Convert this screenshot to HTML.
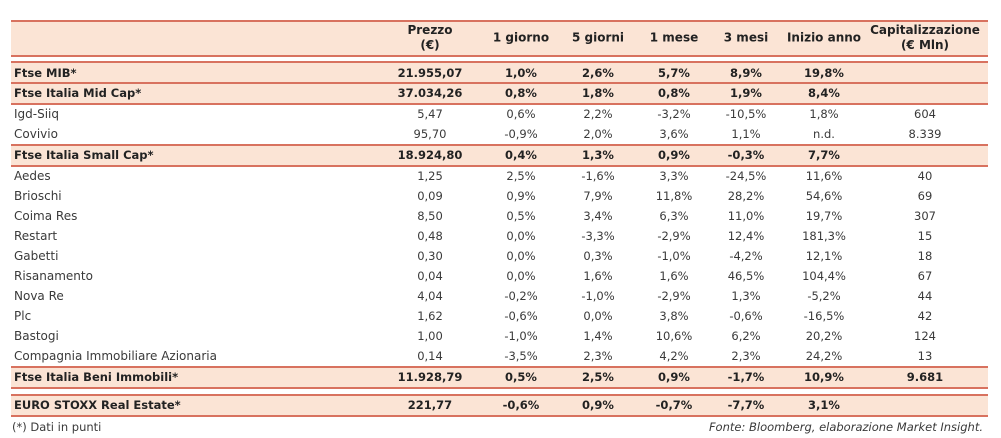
<!DOCTYPE html>
<html><head><meta charset="utf-8">
<style>
body{margin:0;width:1001px;height:438px;background:#fff;position:relative;overflow:hidden;font-family:"DejaVu Sans","Liberation Sans",sans-serif;color:#3a3a3a;}
.band{position:absolute;left:11px;width:977px;background:#fbe4d5;}
.ln{position:absolute;left:11px;width:977px;height:2px;background:#d8725f;}
.c{position:absolute;font-size:11.5px;white-space:nowrap;transform:translate(-50%,-50%);}
.l{position:absolute;font-size:12px;white-space:nowrap;transform:translateY(-50%);left:14px;}
.b{font-weight:bold;font-size:11.5px;color:#222;}
.h{font-weight:bold;font-size:12px;text-align:center;line-height:15px;color:#222;}
.foot{position:absolute;font-size:11.5px;top:420px;}
</style></head><body>
<div class="band" style="top:21px;height:35px"></div>
<div id="t"></div>
<div class="foot" style="left:12px">(*) Dati in punti</div>
<div class="foot" style="right:18px;font-style:italic">Fonte: Bloomberg, elaborazione Market Insight.</div>
<script>
const cols=[430,521,598,674,746,824,925];
const heads=["Prezzo<br>(€)","1 giorno","5 giorni","1 mese","3 mesi","Inizio anno","Capitalizzazione<br>(€ Mln)"];
const rows=[
["Ftse MIB*",1,73,["21.955,07","1,0%","2,6%","5,7%","8,9%","19,8%",""]],
["Ftse Italia Mid Cap*",1,93,["37.034,26","0,8%","1,8%","0,8%","1,9%","8,4%",""]],
["Igd-Siiq",0,114,["5,47","0,6%","2,2%","-3,2%","-10,5%","1,8%","604"]],
["Covivio",0,134,["95,70","-0,9%","2,0%","3,6%","1,1%","n.d.","8.339"]],
["Ftse Italia Small Cap*",1,155,["18.924,80","0,4%","1,3%","0,9%","-0,3%","7,7%",""]],
["Aedes",0,176,["1,25","2,5%","-1,6%","3,3%","-24,5%","11,6%","40"]],
["Brioschi",0,196,["0,09","0,9%","7,9%","11,8%","28,2%","54,6%","69"]],
["Coima Res",0,216,["8,50","0,5%","3,4%","6,3%","11,0%","19,7%","307"]],
["Restart",0,236,["0,48","0,0%","-3,3%","-2,9%","12,4%","181,3%","15"]],
["Gabetti",0,256,["0,30","0,0%","0,3%","-1,0%","-4,2%","12,1%","18"]],
["Risanamento",0,276,["0,04","0,0%","1,6%","1,6%","46,5%","104,4%","67"]],
["Nova Re",0,296,["4,04","-0,2%","-1,0%","-2,9%","1,3%","-5,2%","44"]],
["Plc",0,316,["1,62","-0,6%","0,0%","3,8%","-0,6%","-16,5%","42"]],
["Bastogi",0,336,["1,00","-1,0%","1,4%","10,6%","6,2%","20,2%","124"]],
["Compagnia Immobiliare Azionaria",0,356,["0,14","-3,5%","2,3%","4,2%","2,3%","24,2%","13"]],
["Ftse Italia Beni Immobili*",1,377,["11.928,79","0,5%","2,5%","0,9%","-1,7%","10,9%","9.681"]],
["EURO STOXX Real Estate*",1,405,["221,77","-0,6%","0,9%","-0,7%","-7,7%","3,1%",""]]
];
const lines=[20,55,61,82,103,144,165,366,387,394,415];
const t=document.getElementById('t');
function mk(cls,css,html){const d=document.createElement('div');d.className=cls;d.style.cssText=css;if(html!==undefined)d.innerHTML=html;t.appendChild(d);return d;}
rows.forEach((r,i)=>{if(r[1]){const b=mk('band','top:'+(r[2]-10)+'px;height:21px');

}});
lines.forEach(y=>{const d=mk('ln','top:'+y+'px');

});
heads.forEach((h,i)=>{const d=mk('c h','left:'+cols[i]+'px;top:38px',h);

});
rows.forEach(r=>{const n=mk('l'+(r[1]?' b':''),'top:'+r[2]+'px',r[0]);


r[3].forEach((v,i)=>{if(!v)return;const c=mk('c'+(r[1]?' b':''),'left:'+cols[i]+'px;top:'+r[2]+'px',v);

});});
</script>
</body></html>
